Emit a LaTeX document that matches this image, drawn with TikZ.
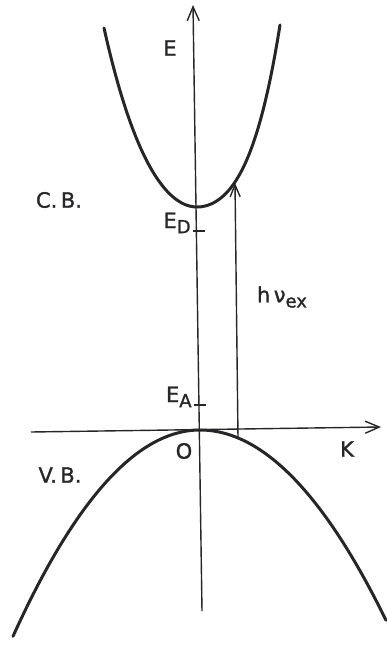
\documentclass[tikz,border=0pt]{standalone}
\usepackage{fontspec}
\setmainfont{DejaVu Sans}[BoldFont={DejaVu Sans}, BoldFeatures={FakeBold=1.3}]
\usetikzlibrary{arrows.meta,positioning}
\definecolor{ink}{RGB}{38,38,40}
\newcommand{\lowsub}[1]{\raisebox{-0.45ex}{\fontsize{9}{10}\selectfont #1}}

\begin{document}
\begin{tikzpicture}[x=0.5pt, y=-0.5pt, color=ink,
      band/.style={line width=1.5pt, line cap=round, samples=60},
      axis/.style={line width=0.7pt, -{Straight Barb[length=7pt,width=6pt]}},
      tick/.style={line width=1pt},
      lbl/.style={font=\fontsize{10.5}{12}\selectfont\bfseries, inner sep=0pt}]
    \useasboundingbox (0,0) rectangle (386,647);
    % axes
    \coordinate (Ebot) at (202,611);
    \coordinate (Etop) at (193,5);
    \coordinate (Kleft) at (31,432);
    \coordinate (Kright) at (381,427);
    \draw[axis] (Ebot) -- (Etop);
    \draw[axis] (Kleft) -- (Kright);
    % conduction band
    \draw[band] plot[domain=-93:0] ({197+\x},{207-173*(\x/100)^2-39.3*(\x/100)^4})
      -- plot[domain=0:83] ({197+\x},{207-149*(\x/100)^2-167.3*(\x/100)^4});
    % valence band
    \draw[band] plot[domain=-187:0] ({200+\x},{430+59*(\x/100)^2})
      -- plot[domain=0:186] ({200+\x},{430+55*(\x/100)^2});
    % levels
    \coordinate (EDl) at (193,231);
    \coordinate (EDr) at (205,231);
    \coordinate (EAl) at (194,405);
    \coordinate (EAr) at (206,405);
    \draw[tick] (EDl) -- (EDr);
    \draw[tick] (EAl) -- (EAr);
    \node[lbl, anchor=base east] (ED) at (191,228) {E\lowsub{D}};
    \node[lbl, anchor=base east] (EA) at (192,402) {E\lowsub{A}};
    % transition
    \coordinate (hvlow) at (238,438);
    \coordinate (hvhigh) at (235,183);
    \draw[line width=0.7pt, -{Straight Barb[length=6pt,width=5pt]}] (hvlow) -- (hvhigh);
    \node[lbl] (hv) at (282,297) {h\,ν\lowsub{ex}};
    % labels
    \node[lbl] (E) at (170,48) {E};
    \node[lbl] (CB) at (59,200) {C.\,B.};
    \node[lbl] (VB) at (60,475) {V.\,B.};
    \node[lbl] (O) at (184,451) {O};
    \node[lbl] (K) at (347,449) {K};
  \end{tikzpicture}
\end{document}
